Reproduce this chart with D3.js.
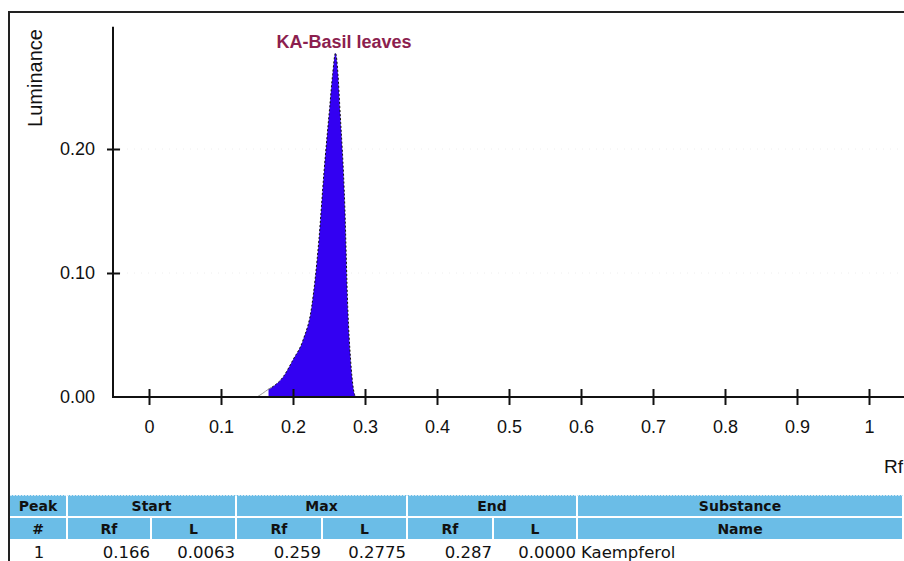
<!DOCTYPE html>
<html lang="en">
<head>
<meta charset="UTF-8">
<title>KA-Basil leaves densitogram</title>
<style>
    body { margin: 0; background: #fff; overflow: hidden; }
    .axis text { font-family: "Liberation Sans", Arial, sans-serif; font-size: 18px; fill: #111; }
    .hdr { font-family: "DejaVu Sans", Verdana, sans-serif; font-size: 14px; font-weight: bold; fill: #111; }
    .cell { font-family: "DejaVu Sans", Verdana, sans-serif; font-size: 16.5px; fill: #111; }
</style>
</head>
<body>
<svg id="chart" width="904" height="561"></svg>
<script src="https://d3js.org/d3.v7.min.js"></script>
<script>
// densitogram trace (Rf, luminance)
const traceRf = [0.150, 0.158, 0.166, 0.171, 0.186, 0.200, 0.214, 0.226, 0.236, 0.243, 0.251, 0.255, 0.259, 0.2625, 0.265, 0.272, 0.276, 0.280, 0.284, 0.287];
const traceL  = [0.000, 0.003, 0.0063, 0.008, 0.016, 0.030, 0.046, 0.073, 0.127, 0.181, 0.234, 0.260, 0.2775, 0.260, 0.234, 0.153, 0.073, 0.030, 0.006, 0.000];

const xTicks = [0, 0.1, 0.2, 0.3, 0.4, 0.5, 0.6, 0.7, 0.8, 0.9, 1];
const yTicks = [0, 0.1, 0.2];

const title = "KA-Basil leaves";

// peak table
const groupHeads = ["Peak", "Start", "Max", "End", "Substance"];
const subHeads = ["#", "Rf", "L", "Rf", "L", "Rf", "L", "Name"];
const peakRow = ["1", "0.166", "0.0063", "0.259", "0.2775", "0.287", "0.0000", "Kaempferol"];

const svg = d3.select("#chart");

// frame
svg.append("path")
    .attr("d", "M9,561 V12 H904")
    .attr("fill", "none")
    .attr("stroke", "#222")
    .attr("stroke-width", 2);

const x = d3.scaleLinear().domain([0, 1]).range([149, 869]);
const y = d3.scaleLinear().domain([0, 0.3]).range([397, 25]);

// faint grid
svg.append("g").selectAll("line")
    .data(yTicks.slice(1))
    .join("line")
    .attr("x1", x(-0.05)).attr("x2", 904)
    .attr("y1", d => y(d)).attr("y2", d => y(d))
    .attr("stroke", "#eee")
    .attr("stroke-dasharray", "1,6");

// peak area
const pts = traceRf.map((r, i) => [r, traceL[i]]);
const area = d3.area()
    .x(d => x(d[0]))
    .y0(y(0))
    .y1(d => y(d[1]))
    .curve(d3.curveMonotoneX);

svg.append("path")
    .datum(pts.filter(d => d[0] >= 0.166))
    .attr("d", area)
    .attr("fill", "#3300f2");

svg.append("path")
    .datum(pts.filter(d => d[0] >= 0.166))
    .attr("d", d3.line().x(d => x(d[0])).y(d => y(d[1])).curve(d3.curveMonotoneX))
    .attr("fill", "none")
    .attr("stroke", "#111")
    .attr("stroke-width", 1)
    .attr("stroke-dasharray", "2,2");

// baseline before the start point
svg.append("path")
    .datum(pts.filter(d => d[0] <= 0.171))
    .attr("d", d3.line().x(d => x(d[0])).y(d => y(d[1])).curve(d3.curveMonotoneX))
    .attr("fill", "none")
    .attr("stroke", "#999")
    .attr("stroke-width", 1);

// axes
const xAxis = d3.axisBottom(x).tickValues(xTicks).tickSize(0).tickPadding(23)
    .tickFormat(d => d === 1 ? "1" : d === 0 ? "0" : d3.format(".1f")(d));
const xg = svg.append("g").attr("class", "axis").attr("transform", `translate(0,${y(0)})`).call(xAxis);
xg.select(".domain").remove();
xg.selectAll(".tick").append("line")
    .attr("y1", -8).attr("y2", 8)
    .attr("stroke", "#111").attr("stroke-width", 2);

const yAxis = d3.axisLeft(y).tickValues(yTicks).tickSize(0).tickPadding(18)
    .tickFormat(d3.format(".2f"));
const yg = svg.append("g").attr("class", "axis").attr("transform", "translate(113,0)").call(yAxis);
yg.select(".domain").remove();
yg.selectAll(".tick").filter(d => d > 0).append("line")
    .attr("x1", -6).attr("x2", 7)
    .attr("stroke", "#111").attr("stroke-width", 2);

svg.append("path")
    .attr("d", `M113,${y(0.2985)} V${y(0)} H904`)
    .attr("fill", "none")
    .attr("stroke", "#111")
    .attr("stroke-width", 2);

svg.append("text")
    .attr("transform", "translate(42,78) rotate(-90)")
    .attr("text-anchor", "middle")
    .style("font-family", "Liberation Sans, Arial, sans-serif")
    .style("font-size", "20px")
    .attr("fill", "#111")
    .text("Luminance");

svg.append("text")
    .attr("x", 884).attr("y", 473)
    .style("font-family", "Liberation Sans, Arial, sans-serif")
    .style("font-size", "19px")
    .attr("fill", "#111")
    .text("Rf");

svg.append("text")
    .attr("x", 344).attr("y", 48)
    .attr("text-anchor", "middle")
    .style("font-family", "Liberation Sans, Arial, sans-serif")
    .style("font-size", "18px")
    .style("font-weight", "bold")
    .attr("fill", "#8c1f4f")
    .text(title);

// table
const subEdges = [10, 68, 152, 237, 323, 408, 494, 578, 904];
const groupEdges = [10, 68, 237, 408, 578, 904];
const blue = "#6bbde7";

const g1 = svg.append("g");
groupHeads.forEach((h, i) => {
    g1.append("rect")
        .attr("x", groupEdges[i]).attr("y", 495)
        .attr("width", groupEdges[i + 1] - groupEdges[i] - 2).attr("height", 21)
        .attr("fill", blue);
    g1.append("text").attr("class", "hdr")
        .attr("x", (groupEdges[i] + groupEdges[i + 1]) / 2 - 1).attr("y", 511)
        .attr("text-anchor", "middle").text(h);
});
subHeads.forEach((h, i) => {
    g1.append("rect")
        .attr("x", subEdges[i]).attr("y", 518)
        .attr("width", subEdges[i + 1] - subEdges[i] - 2).attr("height", 21)
        .attr("fill", blue);
    g1.append("text").attr("class", "hdr")
        .attr("x", (subEdges[i] + subEdges[i + 1]) / 2 - 1).attr("y", 534)
        .attr("text-anchor", "middle").text(h);
});
svg.append("line")
    .attr("x1", 10).attr("x2", 904).attr("y1", 495.5).attr("y2", 495.5)
    .attr("stroke", "#cfe8f6").attr("stroke-dasharray", "2,1");

peakRow.forEach((v, i) => {
    const t = svg.append("text").attr("class", "cell").attr("y", 558).text(v);
    if (i === 0) t.attr("x", (subEdges[0] + subEdges[1]) / 2).attr("text-anchor", "middle");
    else if (i === peakRow.length - 1) t.attr("x", subEdges[i] + 3);
    else t.attr("x", subEdges[i + 1] - 2).attr("text-anchor", "end");
});
</script>
</body>
</html>
